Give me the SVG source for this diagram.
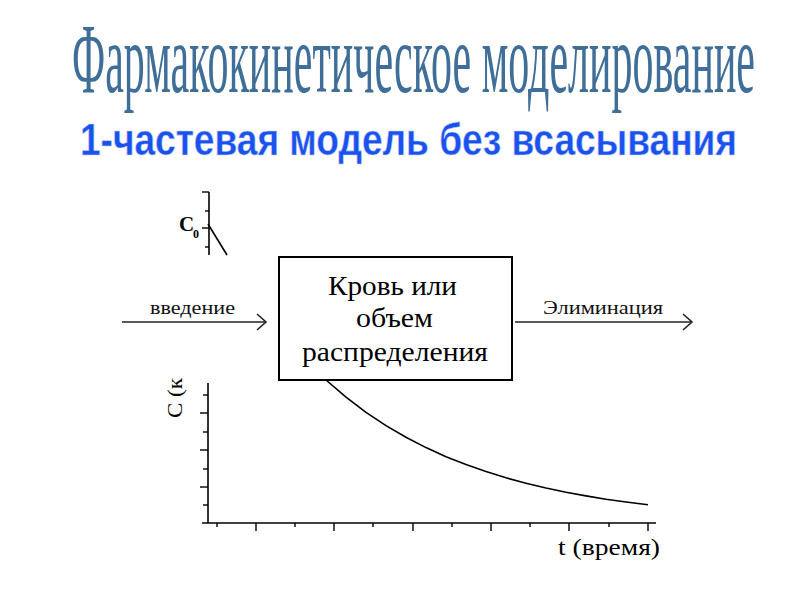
<svg xmlns="http://www.w3.org/2000/svg" width="800" height="600" viewBox="0 0 800 600">
<defs>
<style>
.ax{stroke:#000;stroke-width:1.6;fill:none}
.tk{stroke:#000;stroke-width:1.4}
.serif{font-family:"Liberation Serif","Times New Roman",serif;fill:#000}
.lbl{font-family:"Liberation Serif","Times New Roman",serif;font-size:18px;fill:#111}
.box{fill:#fff;stroke:#000;stroke-width:2}
.con{stroke:#222;stroke-width:1.6;fill:none}
</style>
<marker id="open" markerWidth="12" markerHeight="18" refX="10" refY="9" orient="auto" markerUnits="userSpaceOnUse">
<path d="M1,1 L10,9 L1,17" fill="none" stroke="#222" stroke-width="1.6"/>
</marker>
</defs>
<rect width="800" height="600" fill="#fff"/>

<g id="title">
<text transform="translate(72,92) scale(1,2.35)" x="0" y="0" font-family="'Liberation Serif','Times New Roman',serif" font-size="42" fill="#3f6e98" textLength="683" lengthAdjust="spacingAndGlyphs">Фармакокинетическое моделирование</text>
</g>
<g id="subtitle">
<text transform="translate(80,155) scale(1,1.18)" x="0" y="0" font-family="'Liberation Sans',Arial,sans-serif" font-weight="bold" font-size="38" fill="#1a52ee" stroke="#c8d4f8" stroke-width="0.5" textLength="657" lengthAdjust="spacingAndGlyphs">1-частевая модель без всасывания</text>
</g>

<g id="upper-axis">
<line class="ax" x1="209" y1="192" x2="209" y2="255"/>
<line class="tk" x1="202" y1="192" x2="209" y2="192"/>
<line class="tk" x1="205" y1="211" x2="209" y2="211"/>
<line class="tk" x1="202" y1="228" x2="209" y2="228"/>
<line class="tk" x1="205" y1="247" x2="209" y2="247"/>
<line class="ax" x1="208" y1="224" x2="227" y2="255"/>
<text class="serif" x="179" y="231" font-size="21" font-weight="bold">C</text>
<text class="serif" x="193" y="238" font-size="12" font-weight="bold">0</text>
</g>

<g id="plot">
<polyline class="ax" stroke-width="2" points="316,370.6 326,380 346,397.2 366,412.3 386,425.6 406,437.3 426,447.6 446,456.7 466,464.6 486,471.6 506,477.8 526,483.2 546,488 566,492.2 586,495.9 606,499.2 626,502 648,504.8"/>
<line class="ax" x1="208" y1="383" x2="208" y2="523"/>
<line class="ax" x1="202" y1="523" x2="656" y2="523"/>
<line class="tk" x1="203" y1="395" x2="208" y2="395"/>
<line class="tk" x1="200" y1="413" x2="208" y2="413"/>
<line class="tk" x1="203" y1="432" x2="208" y2="432"/>
<line class="tk" x1="200" y1="450" x2="208" y2="450"/>
<line class="tk" x1="203" y1="469" x2="208" y2="469"/>
<line class="tk" x1="200" y1="487" x2="208" y2="487"/>
<line class="tk" x1="203" y1="505" x2="208" y2="505"/>
<line class="tk" x1="217" y1="523" x2="217" y2="527"/>
<line class="tk" x1="256" y1="523" x2="256" y2="531"/>
<line class="tk" x1="295" y1="523" x2="295" y2="527"/>
<line class="tk" x1="334" y1="523" x2="334" y2="531"/>
<line class="tk" x1="373" y1="523" x2="373" y2="527"/>
<line class="tk" x1="413" y1="523" x2="413" y2="531"/>
<line class="tk" x1="452" y1="523" x2="452" y2="527"/>
<line class="tk" x1="491" y1="523" x2="491" y2="531"/>
<line class="tk" x1="530" y1="523" x2="530" y2="527"/>
<line class="tk" x1="569" y1="523" x2="569" y2="531"/>
<line class="tk" x1="609" y1="523" x2="609" y2="527"/>
<line class="tk" x1="648" y1="523" x2="648" y2="531"/>
<text class="serif" font-size="22" transform="translate(182,418) rotate(-90)" textLength="40" lengthAdjust="spacingAndGlyphs">C (к</text>
<text class="serif" x="558" y="555" font-size="23" textLength="102" lengthAdjust="spacingAndGlyphs">t (время)</text>
</g>

<g id="connectors">
<line class="con" x1="122" y1="322" x2="266" y2="322" marker-end="url(#open)"/>
<line class="con" x1="515" y1="322" x2="692" y2="322" marker-end="url(#open)"/>
<text class="lbl" x="150" y="314" textLength="85" lengthAdjust="spacingAndGlyphs">введение</text>
<text class="lbl" x="543" y="314" textLength="120" lengthAdjust="spacingAndGlyphs">Элиминация</text>
</g>

<g id="blood">
<rect class="box" x="279" y="257" width="233" height="123"/>
<text class="serif" x="328" y="295" font-size="27" textLength="129" lengthAdjust="spacingAndGlyphs">Кровь или</text>
<text class="serif" x="356" y="327" font-size="27" textLength="77" lengthAdjust="spacingAndGlyphs">объем</text>
<text class="serif" x="302" y="361" font-size="27" textLength="186" lengthAdjust="spacingAndGlyphs">распределения</text>
</g>
</svg>
